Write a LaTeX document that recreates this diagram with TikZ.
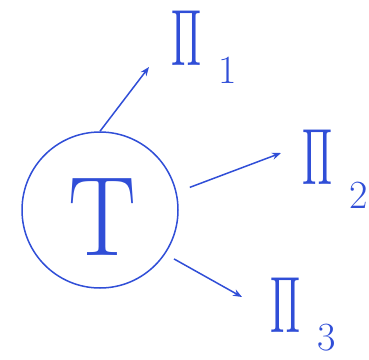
\documentclass[tikz,border=0pt]{standalone}
\usepackage{fontspec}
\newfontfamily\pifont{Latin Modern Math}
\usetikzlibrary{arrows.meta}
\definecolor{pen}{RGB}{48,78,215}
\begin{document}
\begin{tikzpicture}[x=1pt,y=-1pt,
  ink/.style={draw=pen,line width=1.5pt},
  arr/.style={ink,-{Stealth[length=9pt,width=7pt]}},
  bigpi/.style={text=pen,inner sep=0pt,font=\fontsize{80}{80}\pifont},
  subs/.style={text=pen,inner sep=0pt,font=\fontsize{40}{40}\selectfont}]
\useasboundingbox (0,0) rectangle (369,359);
\node[ink,circle,minimum size=156pt,inner sep=0pt] (c) at (100,210) {};
\node[text=pen,inner sep=0pt,font=\fontsize{113}{113}\selectfont] (t) at (102,217) {\scalebox{0.9}[1]{T}};
\node[bigpi] (p1) at (186,38) {\scalebox{0.5}[1]{Π}};
\node[subs] (s1) at (228,70) {1};
\node[bigpi] (p2) at (317,157) {\scalebox{0.5}[1]{Π}};
\node[subs] (s2) at (359,195) {2};
\node[bigpi] (p3) at (285,305) {\scalebox{0.5}[1]{Π}};
\node[subs] (s3) at (327,338) {3};
\coordinate (t1) at (149,67);
\coordinate (t2) at (281,153);
\coordinate (t3) at (242,297);
\draw[arr] (c.north) -- (t1);
\draw[arr,shorten <=14pt] (c.13) -- (t2);
\draw[arr,shorten <=10pt] (c.-34) -- (t3);
\end{tikzpicture}
\end{document}
